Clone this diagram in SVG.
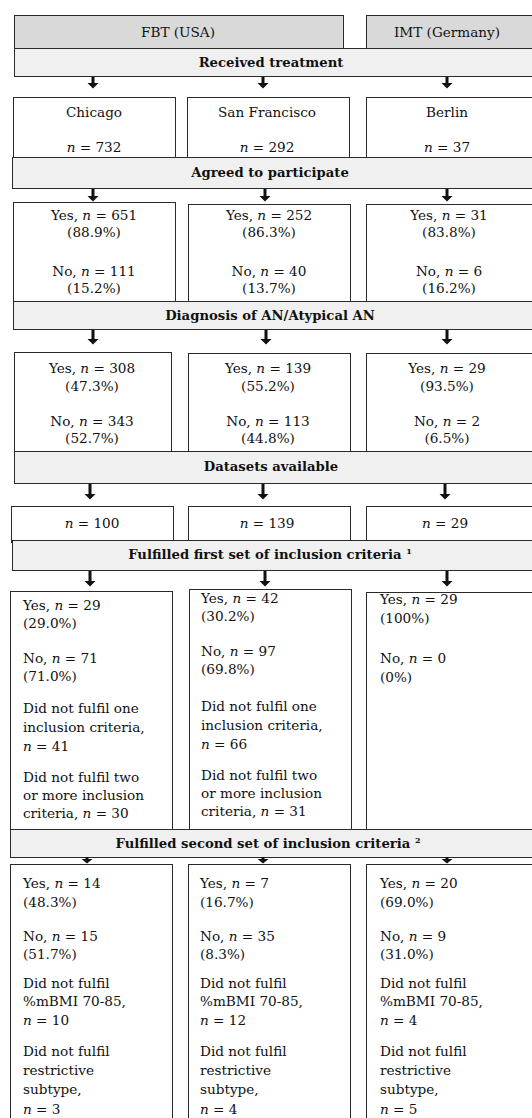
<svg xmlns="http://www.w3.org/2000/svg" width="532" height="1118" viewBox="0 0 532 1118">
<style>
text{font-family:"DejaVu Serif","Liberation Serif",serif;font-size:13.6px;fill:#111}
.c{text-anchor:middle}
.b{font-weight:bold;font-size:13.2px}
.i{font-style:italic}
.hdr{fill:#d9d9d9;stroke:#2a2a2a;stroke-width:1}
.bar{fill:#f0f0f0;stroke:#2a2a2a;stroke-width:1}
.box{fill:#ffffff;stroke:#2a2a2a;stroke-width:1}
.arr{fill:#111}
</style>
<rect width="532" height="1118" fill="#ffffff"/>

<!-- header -->
<g id="fbt"><rect class="hdr" x="14.5" y="15.5" width="329" height="33"/><text class="c" x="178" y="37">FBT (USA)</text></g>
<g id="imt"><rect class="hdr" x="366.5" y="15.5" width="180" height="33"/><text class="c" x="447" y="37">IMT (Germany)</text></g>
<g id="received"><rect class="bar" x="14.5" y="48.5" width="530" height="28"/><text class="c b" x="271" y="67">Received treatment</text></g>

<!-- row 2 -->
<g id="chicago"><rect class="box" x="13.5" y="97.5" width="162" height="62"/><text class="c" x="94" y="117">Chicago</text><text class="c" x="94" y="152"><tspan class="i">n</tspan> = 732</text></g>
<g id="sf"><rect class="box" x="187.5" y="97.5" width="162" height="62"/><text class="c" x="267" y="117">San Francisco</text><text class="c" x="267" y="152"><tspan class="i">n</tspan> = 292</text></g>
<g id="berlin"><rect class="box" x="366.5" y="97.5" width="180" height="62"/><text class="c" x="447" y="117">Berlin</text><text class="c" x="447" y="152"><tspan class="i">n</tspan> = 37</text></g>
<g id="agreed"><rect class="bar" x="12.5" y="157.5" width="530" height="31"/><text class="c b" x="270" y="177">Agreed to participate</text></g>

<!-- row 3 -->
<g id="agree-chi"><rect class="box" x="13.5" y="202.5" width="162" height="100"/>
<text class="c" x="94" y="220">Yes, <tspan class="i">n</tspan> = 651</text><text class="c" x="94" y="237">(88.9%)</text>
<text class="c" x="94" y="276">No, <tspan class="i">n</tspan> = 111</text><text class="c" x="94" y="293">(15.2%)</text></g>
<g id="agree-sf"><rect class="box" x="188.5" y="204.5" width="162" height="98"/>
<text class="c" x="269" y="220">Yes, <tspan class="i">n</tspan> = 252</text><text class="c" x="269" y="237">(86.3%)</text>
<text class="c" x="269" y="276">No, <tspan class="i">n</tspan> = 40</text><text class="c" x="269" y="293">(13.7%)</text></g>
<g id="agree-ber"><rect class="box" x="366.5" y="204.5" width="180" height="98"/>
<text class="c" x="449" y="220">Yes, <tspan class="i">n</tspan> = 31</text><text class="c" x="449" y="237">(83.8%)</text>
<text class="c" x="449" y="276">No, <tspan class="i">n</tspan> = 6</text><text class="c" x="449" y="293">(16.2%)</text></g>
<g id="diagnosis"><rect class="bar" x="13.5" y="301.5" width="530" height="28"/><text class="c b" x="270" y="320">Diagnosis of AN/Atypical AN</text></g>

<!-- row 4 -->
<g id="diag-chi"><rect class="box" x="14.5" y="352.5" width="157" height="100"/>
<text class="c" x="92" y="373">Yes, <tspan class="i">n</tspan> = 308</text><text class="c" x="92" y="391">(47.3%)</text>
<text class="c" x="92" y="426">No, <tspan class="i">n</tspan> = 343</text><text class="c" x="92" y="443">(52.7%)</text></g>
<g id="diag-sf"><rect class="box" x="188.5" y="353.5" width="162" height="99"/>
<text class="c" x="268" y="373">Yes, <tspan class="i">n</tspan> = 139</text><text class="c" x="268" y="391">(55.2%)</text>
<text class="c" x="268" y="426">No, <tspan class="i">n</tspan> = 113</text><text class="c" x="268" y="443">(44.8%)</text></g>
<g id="diag-ber"><rect class="box" x="366.5" y="353.5" width="180" height="99"/>
<text class="c" x="447" y="373">Yes, <tspan class="i">n</tspan> = 29</text><text class="c" x="447" y="391">(93.5%)</text>
<text class="c" x="447" y="426">No, <tspan class="i">n</tspan> = 2</text><text class="c" x="447" y="443">(6.5%)</text></g>
<g id="datasets"><rect class="bar" x="14.5" y="451.5" width="530" height="32"/><text class="c b" x="271" y="471">Datasets available</text></g>

<!-- row 5 -->
<g id="data-chi"><rect class="box" x="11.5" y="506.5" width="162" height="36"/><text class="c" x="92" y="528"><tspan class="i">n</tspan> = 100</text></g>
<g id="data-sf"><rect class="box" x="188.5" y="506.5" width="162" height="36"/><text class="c" x="267" y="528"><tspan class="i">n</tspan> = 139</text></g>
<g id="data-ber"><rect class="box" x="366.5" y="506.5" width="180" height="36"/><text class="c" x="445" y="528"><tspan class="i">n</tspan> = 29</text></g>
<g id="first"><rect class="bar" x="12.5" y="540.5" width="530" height="30"/><text class="c b" x="270" y="559">Fulfilled first set of inclusion criteria <tspan font-size="8" dy="-5">1</tspan></text></g>

<!-- row 6 -->
<g id="first-chi"><rect class="box" x="10.5" y="591.5" width="162" height="240"/>
<text x="23" y="610">Yes, <tspan class="i">n</tspan> = 29</text><text x="23" y="628">(29.0%)</text>
<text x="23" y="663">No, <tspan class="i">n</tspan> = 71</text><text x="23" y="681">(71.0%)</text>
<text x="23" y="713">Did not fulfil one</text><text x="23" y="732">inclusion criteria,</text><text x="23" y="751"><tspan class="i">n</tspan> = 41</text>
<text x="23" y="782">Did not fulfil two</text><text x="23" y="800">or more inclusion</text><text x="23" y="818">criteria, <tspan class="i">n</tspan> = 30</text></g>
<g id="first-sf"><rect class="box" x="189.5" y="589.5" width="162" height="242"/>
<text x="201" y="603">Yes, <tspan class="i">n</tspan> = 42</text><text x="201" y="621">(30.2%)</text>
<text x="201" y="656">No, <tspan class="i">n</tspan> = 97</text><text x="201" y="674">(69.8%)</text>
<text x="201" y="711">Did not fulfil one</text><text x="201" y="730">inclusion criteria,</text><text x="201" y="749"><tspan class="i">n</tspan> = 66</text>
<text x="201" y="780">Did not fulfil two</text><text x="201" y="798">or more inclusion</text><text x="201" y="816">criteria, <tspan class="i">n</tspan> = 31</text></g>
<g id="first-ber"><rect class="box" x="366.5" y="592.5" width="180" height="239"/>
<text x="380" y="604">Yes, <tspan class="i">n</tspan> = 29</text><text x="380" y="623">(100%)</text>
<text x="380" y="663">No, <tspan class="i">n</tspan> = 0</text><text x="380" y="682">(0%)</text></g>
<g id="second"><rect class="bar" x="10.5" y="829.5" width="532" height="28"/><text class="c b" x="268" y="848">Fulfilled second set of inclusion criteria <tspan font-size="8" dy="-5">2</tspan></text></g>

<!-- row 7 -->
<g id="second-chi"><rect class="box" x="10.5" y="864.5" width="162" height="270"/>
<text x="23" y="888">Yes, <tspan class="i">n</tspan> = 14</text><text x="23" y="907">(48.3%)</text>
<text x="23" y="941">No, <tspan class="i">n</tspan> = 15</text><text x="23" y="959">(51.7%)</text>
<text x="23" y="988">Did not fulfil</text><text x="23" y="1006">%mBMI 70-85,</text><text x="23" y="1025"><tspan class="i">n</tspan> = 10</text>
<text x="23" y="1056">Did not fulfil</text><text x="23" y="1075">restrictive</text><text x="23" y="1094">subtype,</text><text x="23" y="1114"><tspan class="i">n</tspan> = 3</text></g>
<g id="second-sf"><rect class="box" x="188.5" y="864.5" width="162" height="270"/>
<text x="200" y="888">Yes, <tspan class="i">n</tspan> = 7</text><text x="200" y="907">(16.7%)</text>
<text x="200" y="941">No, <tspan class="i">n</tspan> = 35</text><text x="200" y="959">(8.3%)</text>
<text x="200" y="988">Did not fulfil</text><text x="200" y="1006">%mBMI 70-85,</text><text x="200" y="1025"><tspan class="i">n</tspan> = 12</text>
<text x="200" y="1056">Did not fulfil</text><text x="200" y="1075">restrictive</text><text x="200" y="1094">subtype,</text><text x="200" y="1114"><tspan class="i">n</tspan> = 4</text></g>
<g id="second-ber"><rect class="box" x="366.5" y="864.5" width="180" height="270"/>
<text x="380" y="888">Yes, <tspan class="i">n</tspan> = 20</text><text x="380" y="907">(69.0%)</text>
<text x="380" y="941">No, <tspan class="i">n</tspan> = 9</text><text x="380" y="959">(31.0%)</text>
<text x="380" y="988">Did not fulfil</text><text x="380" y="1006">%mBMI 70-85,</text><text x="380" y="1025"><tspan class="i">n</tspan> = 4</text>
<text x="380" y="1056">Did not fulfil</text><text x="380" y="1075">restrictive</text><text x="380" y="1094">subtype,</text><text x="380" y="1114"><tspan class="i">n</tspan> = 5</text></g>

<!-- connectors -->
<g id="connectors" class="arr">
<path d="M91.5,77v6h-4l5.5,5.5 5.5,-5.5h-4v-6z"/>
<path d="M261.5,77v6h-4l5.5,5.5 5.5,-5.5h-4v-6z"/>
<path d="M445.5,77v6h-4l5.5,5.5 5.5,-5.5h-4v-6z"/>
<path d="M91.5,189v7h-4l5.5,5.5 5.5,-5.5h-4v-7z"/>
<path d="M263.5,189v7h-4l5.5,5.5 5.5,-5.5h-4v-7z"/>
<path d="M445.5,189v7h-4l5.5,5.5 5.5,-5.5h-4v-7z"/>
<path d="M91.5,330v9h-4l5.5,5.5 5.5,-5.5h-4v-9z"/>
<path d="M264.5,330v9h-4l5.5,5.5 5.5,-5.5h-4v-9z"/>
<path d="M445.5,330v9h-4l5.5,5.5 5.5,-5.5h-4v-9z"/>
<path d="M88.5,484v10h-4l5.5,5.5 5.5,-5.5h-4v-10z"/>
<path d="M261.5,484v10h-4l5.5,5.5 5.5,-5.5h-4v-10z"/>
<path d="M443.5,484v10h-4l5.5,5.5 5.5,-5.5h-4v-10z"/>
<path d="M88.5,571v10h-4l5.5,5.5 5.5,-5.5h-4v-10z"/>
<path d="M263.5,571v10h-4l5.5,5.5 5.5,-5.5h-4v-10z"/>
<path d="M445.5,571v10h-4l5.5,5.5 5.5,-5.5h-4v-10z"/>
<path d="M85.5,857v2h-4l5.5,4.5 5.5,-4.5h-4v-2z"/>
<path d="M261.5,857v2h-4l5.5,4.5 5.5,-4.5h-4v-2z"/>
<path d="M445.5,857v2h-4l5.5,4.5 5.5,-4.5h-4v-2z"/>
</g>
</svg>
